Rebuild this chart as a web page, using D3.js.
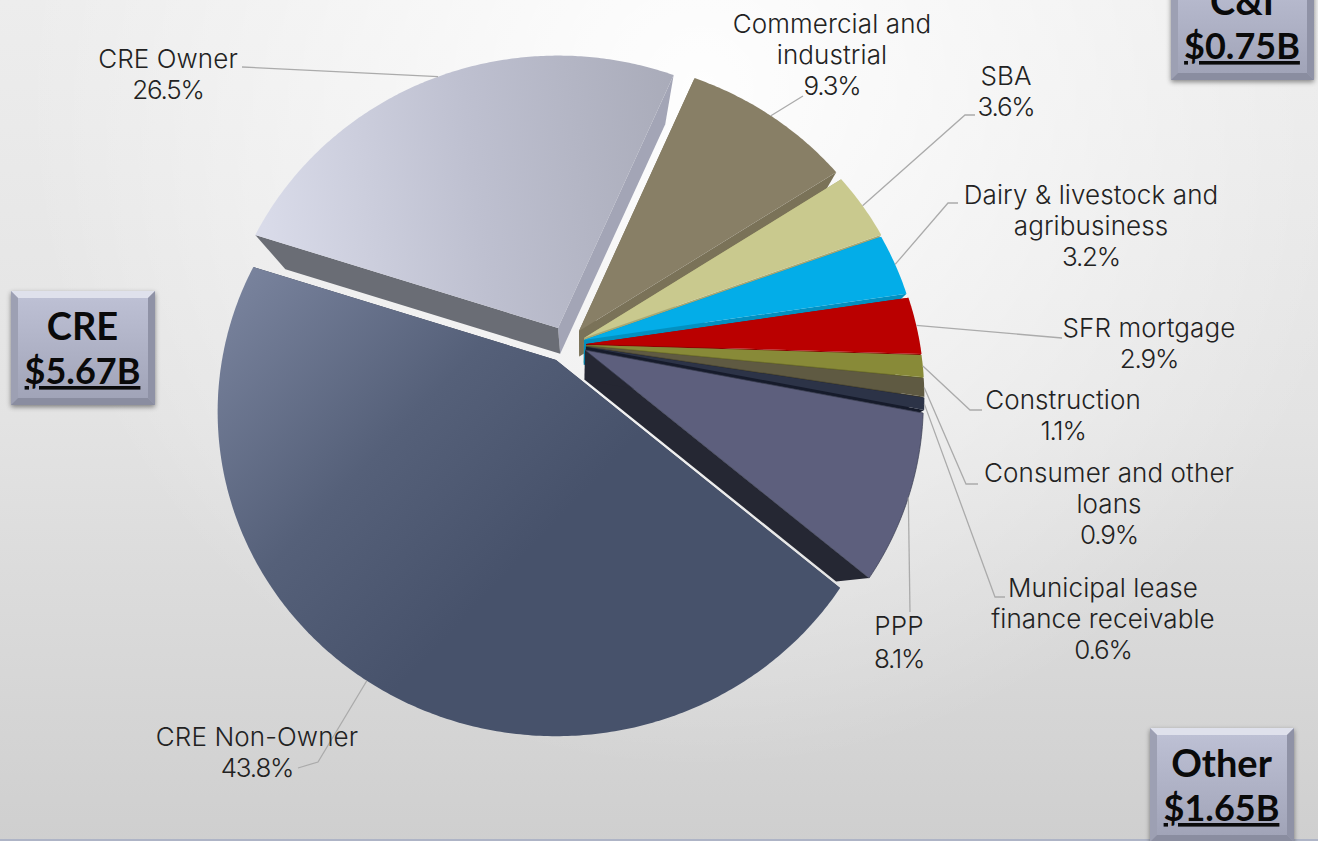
<!DOCTYPE html>
<html>
<head>
<meta charset="utf-8">
<script src="https://cdn.jsdelivr.net/npm/d3@7"></script>
<style>
html,body{margin:0;padding:0;background:#fff;overflow:hidden}
svg{display:block}
.label text{font-family:Inter,Lato,sans-serif;font-weight:300}
.box text{font-family:Lato,Inter,sans-serif;font-weight:700}
</style>
</head>
<body>
<svg id="chart" width="1318" height="841"></svg>
<script>
// Loan portfolio mix, clockwise from Commercial and industrial
const categories = ["Commercial and industrial","SBA","Dairy & livestock and agribusiness","SFR mortgage","Construction","Consumer and other loans","Municipal lease finance receivable","PPP","CRE Non-Owner","CRE Owner"];
const shares = [9.3,3.6,3.2,2.9,1.1,0.9,0.6,8.1,43.8,26.5];
const groupNames = ["CRE","C&I","Other"];
const groupTotals = ["$5.67B","$0.75B","$1.65B"];

// Styling per slice, same order as categories
const topColors = ["#887F66","#C9C98E","#03ADE8","#BA0000","#888A38","#5F5A42","#2C3347","#5D5F7D","url(#gradNonOwner)","url(#gradOwner)"];
const startWallColors = ["#7A7258","#A9A873","#0390C0","#8E0000","#6C6D2B","#4A4633","#161B2B","#252733","#333B50","#6A6D75"];
const endWallColors = ["#7A7258","#A9A873","#0390C0","#8E0000","#6C6D2B","#4A4633","#161B2B","#252733","#333B50","#A3A5B6"];
// Where each slice's point sits after being pulled out of the pie
const apexes = [[579,331],[584,338],[584,340],[586,344],[586,345],[586,346],[586,347],[585,350],[556,360],[558,328]];
// Slab thickness per slice, as a fraction of the way to the vanishing point
const depths = [0.092,0.092,0.092,0.092,0.092,0.092,0.092,0.115,0.092,0.092];
// Wrapped label lines and their placement
const labelLines = [["Commercial and","industrial"],["SBA"],["Dairy & livestock and","agribusiness"],["SFR mortgage"],["Construction"],["Consumer and other","loans"],["Municipal lease","finance receivable"],["PPP"],["CRE Non-Owner"],["CRE Owner"]];
const labelCentres = [832,1006,1091,1149,1063,1109,1103,899,257,168];
const labelTops = [33,85,204,337,409,482,597,635,746,68];
const lineGaps = [31,31,31,31,31,31,31,33,31,31];
// Leader line elbows, listed from the label end
const leaderStarts = [[803,96],[975,115],[958,203],[1062,338],[982,410],[978,484],[1005,597],[910,612],[298,768],[242,67]];
const leaderElbows = [null,[965,115],[948,203],null,[970,410],[966,484],[995,597],null,[318,762],null];
// Summary boxes
const boxRects = [[11,291,144,114],[1171,-34,143,114],[1150,728,144,114]];

const svg = d3.select("#chart");
const W = 1318, H = 841;
const defs = svg.append("defs");

function linearGrad(id, x1, y1, x2, y2, stops){
  const g = defs.append("linearGradient").attr("id", id).attr("gradientUnits","userSpaceOnUse")
    .attr("x1",x1).attr("y1",y1).attr("x2",x2).attr("y2",y2);
  stops.forEach(s => g.append("stop").attr("offset",s[0]).attr("stop-color",s[1]));
}
linearGrad("gradOwner",265,240,690,190,[[0,"#D9DBE9"],[0.5,"#BEC0D0"],[1,"#A9ABB9"]]);
linearGrad("gradNonOwner",235,290,520,560,[[0,"#78829C"],[0.55,"#556079"],[1,"#47526B"]]);
linearGrad("gradBox",0,0,0,1,[[0,"#BFC2D6"],[1,"#9FA2B6"]]);
defs.select("#gradBox").attr("gradientUnits","objectBoundingBox");
linearGrad("gradPage",0,0,0,841,[[0,"#EDEDED"],[0.5,"#E3E3E3"],[1,"#CFCFCF"]]);
const rg = defs.append("radialGradient").attr("id","gradGlow").attr("gradientUnits","userSpaceOnUse")
  .attr("cx",700).attr("cy",90).attr("r",680);
rg.append("stop").attr("offset",0).attr("stop-color","#fff").attr("stop-opacity",0.95);
rg.append("stop").attr("offset",1).attr("stop-color","#fff").attr("stop-opacity",0);
const shadow = defs.append("filter").attr("id","boxShadow").attr("x","-15%").attr("y","-15%").attr("width","130%").attr("height","130%");
shadow.append("feDropShadow").attr("dx",0).attr("dy",2).attr("stdDeviation",2.5).attr("flood-color","#000").attr("flood-opacity",0.45);

// Page backdrop
svg.append("rect").attr("width",W).attr("height",H).attr("fill","url(#gradPage)");
svg.append("rect").attr("width",W).attr("height",H).attr("fill","url(#gradGlow)");
svg.append("rect").attr("y",H-2).attr("width",W).attr("height",2).attr("fill","#AEB4C6");

// Tilted disc: perspective projection of the unit circle around a slice's point
const radiusX = 334, radiusY = 316, tilt = 0.16;
function project(apex, angle, r = 1){
  const u = r * Math.sin(angle), v = r * Math.cos(angle), d = 1 + tilt * v;
  return [apex[0] + radiusX * u / d, apex[1] - radiusY * v / d];
}
// The lower face of the slab shrinks toward a single vanishing point
const vanish = [582,608];
const drop = (p, k) => [p[0] + k * (vanish[0] - p[0]), p[1] + k * (vanish[1] - p[1])];

const pie = d3.pie().sort(null).value(d => d)
  .startAngle(23.4 * Math.PI / 180).endAngle((360 + 23.4) * Math.PI / 180);
const arcs = pie(shares);
const polygon = d3.line().curve(d3.curveLinearClosed);

function topOutline(a, apex){
  const steps = Math.max(4, Math.ceil((a.endAngle - a.startAngle) / 0.01));
  const pts = d3.range(steps + 1).map(i => project(apex, a.startAngle + (a.endAngle - a.startAngle) * i / steps));
  return [apex, ...pts];
}

const sliceLayer = svg.append("g");
// Back-to-front order: CRE Owner first, then clockwise, CRE Non-Owner last
const order = [9,0,1,2,3,4,5,6,7,8];
order.forEach(i => {
  const a = arcs[i], apex = apexes[i], k = depths[i];
  const g = sliceLayer.append("g").attr("class","slice");
  const p0 = project(apex, a.startAngle), p1 = project(apex, a.endAngle);
  g.append("path").attr("d", polygon([apex, p1, drop(p1,k), drop(apex,k)])).attr("fill", endWallColors[i]);
  g.append("path").attr("d", polygon([apex, p0, drop(p0,k), drop(apex,k)])).attr("fill", startWallColors[i]);
  const outlined = i === 7;
  g.append("path").attr("d", polygon(topOutline(a, apex))).attr("fill", topColors[i])
    .attr("stroke", outlined ? "#3A3D50" : "none").attr("stroke-width", outlined ? 0.7 : 0);
});

// Leader lines end on the rim at each slice's middle angle
const leaderLayer = svg.append("g").attr("fill","none").attr("stroke","#ABABAB").attr("stroke-width",1.3);
arcs.forEach((a,i) => {
  const end = project(apexes[i], (a.startAngle + a.endAngle) / 2);
  const pts = [leaderStarts[i]];
  if (leaderElbows[i]) pts.push(leaderElbows[i]);
  pts.push(end);
  leaderLayer.append("path").attr("d", d3.line()(pts));
});

// Category labels with the share on the last line
const labelLayer = svg.append("g").attr("class","label").attr("fill","#222").attr("font-size",26).attr("text-anchor","middle");
arcs.forEach((a,i) => {
  const t = labelLayer.append("text");
  const lines = [...labelLines[i], shares[i].toFixed(1) + "%"];
  lines.forEach((s,j) => {
    t.append("tspan").attr("x", labelCentres[i]).attr("y", labelTops[i] + j * lineGaps[i])
      .attr("letter-spacing", j === lines.length - 1 ? -1.2 : 0.1).text(s);
  });
});

// Summary boxes with a bevelled edge
const bevel = 7;
boxRects.forEach((r,i) => {
  const [x,y,w,h] = r;
  const g = svg.append("g").attr("class","box");
  g.append("rect").attr("x",x).attr("y",y).attr("width",w).attr("height",h).attr("fill","url(#gradBox)").attr("filter","url(#boxShadow)");
  g.append("path").attr("d",polygon([[x,y],[x+w,y],[x+w-bevel,y+bevel],[x+bevel,y+bevel]])).attr("fill","#DFE1EC");
  g.append("path").attr("d",polygon([[x,y],[x+bevel,y+bevel],[x+bevel,y+h-bevel],[x,y+h]])).attr("fill","#9DA0B3");
  g.append("path").attr("d",polygon([[x+w,y],[x+w-bevel,y+bevel],[x+w-bevel,y+h-bevel],[x+w,y+h]])).attr("fill","#8F92A6");
  g.append("path").attr("d",polygon([[x,y+h],[x+bevel,y+h-bevel],[x+w-bevel,y+h-bevel],[x+w,y+h]])).attr("fill","#8A8DA0");
  const cx = x + w / 2 - 0.5;
  g.append("text").attr("x",cx).attr("y",y+49).attr("text-anchor","middle").attr("font-size",38).attr("fill","#0A0A0A").text(groupNames[i]);
  g.append("text").attr("x",cx).attr("y",y+93).attr("text-anchor","middle").attr("font-size",36).attr("fill","#0A0A0A").attr("text-decoration","underline").text(groupTotals[i]);
});
</script>
</body>
</html>
